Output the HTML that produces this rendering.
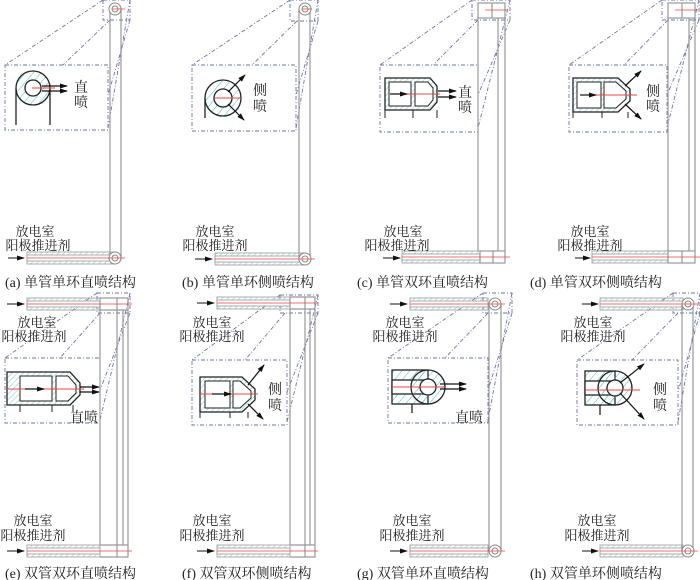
<!DOCTYPE html>
<html><head><meta charset="utf-8"><style>
html,body{margin:0;padding:0;background:#fff}
svg{display:block}
text{font-family:"Liberation Serif","Noto Serif CJK SC",serif;fill:#222}
</style></head><body>
<svg width="700" height="580" viewBox="0 0 700 580" xmlns="http://www.w3.org/2000/svg">
<defs>
<pattern id="h" width="4" height="4" patternUnits="userSpaceOnUse" patternTransform="rotate(45)">
<line x1="0" y1="0" x2="0" y2="4" stroke="#7cc" stroke-width="1"/></pattern>
<pattern id="H" width="6" height="6" patternUnits="userSpaceOnUse" patternTransform="rotate(40)">
<line x1="0" y1="0" x2="0" y2="6" stroke="#4bb" stroke-width="1"/></pattern>
<marker id="ar" markerUnits="userSpaceOnUse" markerWidth="8" markerHeight="6" refX="7" refY="3" orient="auto"><path d="M0,0.5 L8,3 L0,5.5z" fill="#111"/></marker>
</defs>
<g fill="none" stroke="#6a74a6" stroke-width="0.9" stroke-dasharray="4,2,1,2">
<rect x="103" y="0" width="27" height="20"/><rect x="5" y="65" width="103" height="65"/>
<path d="M103,0 L5,65 M110,20 L63,65 M130,0 L108,128 M130,20 L108,95"/>
<rect x="290" y="0" width="28" height="21"/><rect x="192" y="65" width="104" height="66"/>
<path d="M290,0 L192,65 M297,21 L252,65 M318,0 L296,128 M318,21 L296,95"/>
<rect x="472" y="0" width="38" height="20"/><rect x="380" y="65" width="98" height="67"/>
<path d="M472,0 L380,65 M478,20 L433,65 M510,0 L478,128 M510,20 L478,95"/>
<rect x="662" y="0" width="37" height="20"/><rect x="569" y="65" width="98" height="67"/>
<path d="M662,0 L569,65 M668,20 L624,65 M699,0 L667,128 M699,20 L667,95"/>
<rect x="97" y="293" width="33" height="20"/><rect x="5" y="358" width="95" height="65"/>
<path d="M97,293 L5,358 M100,313 L60,358 M130,293 L100,420 M130,313 L100,390"/>
<rect x="280" y="295" width="38" height="18"/><rect x="192" y="360" width="95" height="65"/>
<path d="M280,295 L192,360 M285,313 L245,360 M318,295 L287,422 M318,313 L287,392"/>
<rect x="483" y="293" width="29" height="20"/><rect x="388" y="358" width="100" height="65"/>
<path d="M483,293 L388,358 M488,313 L445,358 M512,293 L488,420 M512,313 L488,390"/>
<rect x="673" y="293" width="27" height="20"/><rect x="577" y="360" width="101" height="65"/>
<path d="M673,293 L577,360 M678,313 L632,360 M700,293 L678,422 M700,313 L678,392"/>
</g>

<g stroke="#999" stroke-width="0.8">
<rect x="27" y="252" width="88" height="12" fill="url(#h)"/><rect x="27" y="255" width="88" height="6" fill="#fff"/>
<rect x="215" y="253" width="90" height="12" fill="url(#h)"/><rect x="215" y="256" width="90" height="6" fill="#fff"/>
<rect x="402" y="251" width="78" height="12" fill="url(#h)"/><rect x="402" y="254" width="78" height="6" fill="#fff"/>
<rect x="592" y="251" width="76" height="12" fill="url(#h)"/><rect x="592" y="254" width="76" height="6" fill="#fff"/>
<rect x="27" y="298" width="73" height="12" fill="url(#h)"/><rect x="27" y="301" width="73" height="6" fill="#fff"/>
<rect x="27" y="545" width="73" height="12" fill="url(#h)"/><rect x="27" y="548" width="73" height="6" fill="#fff"/>
<rect x="217" y="297" width="73" height="12" fill="url(#h)"/><rect x="217" y="300" width="73" height="6" fill="#fff"/>
<rect x="217" y="545" width="73" height="12" fill="url(#h)"/><rect x="217" y="548" width="73" height="6" fill="#fff"/>
<rect x="410" y="298" width="78" height="12" fill="url(#h)"/><rect x="410" y="301" width="78" height="6" fill="#fff"/>
<rect x="410" y="545" width="78" height="12" fill="url(#h)"/><rect x="410" y="548" width="78" height="6" fill="#fff"/>
<rect x="600" y="298" width="83" height="12" fill="url(#h)"/><rect x="600" y="301" width="83" height="6" fill="#fff"/>
<rect x="600" y="545" width="83" height="12" fill="url(#h)"/><rect x="600" y="548" width="83" height="6" fill="#fff"/>
</g>

<g fill="none" stroke="#999" stroke-width="1.2">
<path d="M110,9 V258 M121,9 V258"/>
<path d="M299,9 V259 M310,9 V259"/>
<rect x="478" y="3" width="27" height="15"/><path d="M492,3 V18 M478,18 V251 M505,18 V251 M498,18 V251"/>
<rect x="480" y="251" width="25" height="12"/><path d="M493,251 V263"/>
<rect x="668" y="3" width="27" height="15"/><path d="M682,3 V18 M668,18 V251 M695,18 V251 M689,18 V251"/>
<rect x="668" y="251" width="27" height="12"/><path d="M682,251 V263"/>
<path d="M100,298 H128 V310 H100z M117,298 V310 M100,310 V545 M128,310 V545 M117,310 V545 M123,310 V545 M100,545 H128 V557 H100 M117,545 V557"/>
<path d="M290,297 H315 V309 H290z M305,297 V309 M290,309 V545 M315,309 V545 M305,309 V545 M310,309 V545 M290,545 H315 V557 H290 M305,545 V557"/>
<path d="M489,305 V551 M501,305 V551"/>
<path d="M682,305 V551 M693,305 V551"/>
</g>
<g fill="#fff" stroke="#888" stroke-width="1">
<circle cx="115" cy="9" r="6"/><circle cx="115" cy="9" r="3"/>
<circle cx="115" cy="258" r="6"/><circle cx="115" cy="258" r="3"/>
<circle cx="305" cy="9" r="6"/><circle cx="305" cy="9" r="3"/>
<circle cx="305" cy="259" r="6"/><circle cx="305" cy="259" r="3"/>
<circle cx="495" cy="304" r="6"/><circle cx="495" cy="304" r="3"/>
<circle cx="495" cy="551" r="6"/><circle cx="495" cy="551" r="3"/>
<circle cx="688" cy="304" r="6"/><circle cx="688" cy="304" r="3"/>
<circle cx="688" cy="551" r="6"/><circle cx="688" cy="551" r="3"/>
</g>
<g stroke="#e44" stroke-width="0.8">
<path d="M27,258 H125 M215,259 H315 M402,257 H510 M592,257 H700 M27,304 H132 M27,551 H132 M217,303 H318 M217,551 H318 M410,304 H505 M410,551 H505 M600,304 H698 M600,551 H698 M112,9 H125 M302,9 H312 M485,10 H508 M675,10 H698"/>
</g>
<g stroke="#111" stroke-width="1" marker-end="url(#ar)">
<line x1="8" y1="258" x2="24" y2="258"/><line x1="195" y1="259" x2="212" y2="259"/>
<line x1="383" y1="258" x2="400" y2="258"/><line x1="575" y1="258" x2="590" y2="258"/>
<line x1="7" y1="304" x2="24" y2="304"/><line x1="7" y1="551" x2="24" y2="551"/>
<line x1="197" y1="303" x2="214" y2="303"/><line x1="197" y1="551" x2="214" y2="551"/>
<line x1="390" y1="304" x2="407" y2="304"/><line x1="390" y1="551" x2="407" y2="551"/>
<line x1="582" y1="304" x2="598" y2="304"/><line x1="582" y1="551" x2="598" y2="551"/>
</g>

<g stroke="#222" stroke-width="1.3" fill="none">
<circle cx="33" cy="88" r="17" fill="url(#H)"/><circle cx="33" cy="88" r="8" fill="#fff"/>
<path d="M16,88 V125 M50,88 V125"/>
</g>
<path d="M32,88 H55" stroke="#e44"/>
<g stroke="#111" stroke-width="1.2" marker-end="url(#ar)"><line x1="42" y1="86" x2="67" y2="86"/><line x1="42" y1="91" x2="67" y2="91"/></g>
<g stroke="#222" stroke-width="1.3" fill="none">
<circle cx="223" cy="98" r="18" fill="url(#H)"/><circle cx="223" cy="98" r="9" fill="#fff"/>
<path d="M205,98 V118"/>
</g>
<path d="M215,98 H241" stroke="#e44"/>
<g stroke="#111" stroke-width="1.2" marker-end="url(#ar)"><line x1="228" y1="92" x2="245" y2="75"/><line x1="228" y1="104" x2="244" y2="120"/></g>
<g stroke="#222" stroke-width="1.3" fill="url(#h)"><path d="M385,78 H430 L437,86 V102 L430,110 H385z"/></g>
<g stroke="#222" stroke-width="1" fill="#fff"><rect x="389" y="82" width="22" height="24"/><path d="M415,82 H428 L433,88 V100 L428,106 H415z"/></g>
<path d="M385,110 V118 M413,110 V118 M437,110 V118" stroke="#222"/>
<path d="M405,94 H440" stroke="#e44"/>
<g stroke="#111" stroke-width="1.2" marker-end="url(#ar)"><line x1="390" y1="94" x2="407" y2="94"/><line x1="438" y1="91" x2="456" y2="91"/><line x1="438" y1="97" x2="456" y2="97"/></g>
<g stroke="#222" stroke-width="1.3" fill="url(#h)"><path d="M573,78 H618 L630,89 V101 L618,112 H573z"/></g>
<g stroke="#222" stroke-width="1" fill="#fff"><rect x="577" y="82" width="24" height="26"/><path d="M604,82 H616 L626,91 V99 L616,108 H604z"/></g>
<path d="M573,112 V118 M602,112 V118 M628,112 V118" stroke="#222"/>
<path d="M595,95 H637" stroke="#e44"/>
<g stroke="#111" stroke-width="1.2" marker-end="url(#ar)"><line x1="580" y1="95" x2="596" y2="95"/><line x1="625" y1="86" x2="641" y2="71"/><line x1="625" y1="104" x2="641" y2="119"/></g>
<g stroke="#222" stroke-width="1.3" fill="url(#h)"><path d="M7,372 H70 L80,383 V395 L70,405 H7z"/></g>
<g stroke="#222" stroke-width="1" fill="#fff"><rect x="20" y="376" width="32" height="25"/><path d="M56,376 H68 L76,385 V393 L68,401 H56z"/></g>
<path d="M20,405 V412 M52,405 V412 M73,405 V412" stroke="#222"/>
<path d="M7,389 H84" stroke="#e44"/>
<g stroke="#111" stroke-width="1.2" marker-end="url(#ar)"><line x1="25" y1="389" x2="44" y2="389"/><line x1="80" y1="387" x2="99" y2="387"/><line x1="80" y1="392" x2="99" y2="392"/></g>
<g stroke="#222" stroke-width="1.3" fill="url(#h)"><path d="M200,377 H242 L255,389 V400 L242,412 H200z"/></g>
<g stroke="#222" stroke-width="1" fill="#fff"><rect x="205" y="381" width="25" height="27"/><path d="M233,381 H240 L251,391 V398 L240,408 H233z"/></g>
<path d="M200,412 V418 M230,412 V418 M248,412 V418" stroke="#222"/>
<path d="M200,394 H258" stroke="#e44"/>
<g stroke="#111" stroke-width="1.2" marker-end="url(#ar)"><line x1="212" y1="394" x2="231" y2="394"/><line x1="248" y1="385" x2="264" y2="365"/><line x1="248" y1="404" x2="263" y2="419"/></g>
<g stroke="#222" stroke-width="1.3">
<rect x="392" y="370" width="36" height="34" fill="url(#H)"/>
<rect x="392" y="380" width="36" height="14" fill="#fff"/>
<circle cx="428" cy="387" r="17" fill="url(#H)"/><circle cx="428" cy="387" r="8" fill="#fff"/>
<path d="M412,404 V413" fill="none"/>
</g>
<path d="M392,387 H445" stroke="#e44"/>
<g stroke="#111" stroke-width="1.2" marker-end="url(#ar)"><line x1="440" y1="384" x2="466" y2="384"/><line x1="440" y1="389" x2="466" y2="389"/></g>
<g stroke="#222" stroke-width="1.3">
<rect x="585" y="371" width="30" height="34" fill="url(#H)"/>
<rect x="585" y="381" width="30" height="14" fill="#fff"/>
<circle cx="615" cy="388" r="17" fill="url(#H)"/><circle cx="615" cy="388" r="8" fill="#fff"/>
<path d="M600,405 V415" fill="none"/>
</g>
<path d="M585,390 H640" stroke="#e44"/>
<g stroke="#111" stroke-width="1.2" marker-end="url(#ar)"><line x1="620" y1="383" x2="644" y2="364"/><line x1="620" y1="393" x2="644" y2="419"/></g>

<g font-size="14">
<text x="74" y="92">直</text><text x="74" y="107">喷</text>
<text x="253" y="95">侧</text><text x="253" y="111">喷</text>
<text x="458" y="97">直</text><text x="458" y="112">喷</text>
<text x="646" y="96">侧</text><text x="646" y="111">喷</text>
<text x="70" y="422">直喷</text>
<text x="268" y="394">侧</text><text x="268" y="410">喷</text>
<text x="455" y="422">直喷</text>
<text x="653" y="394">侧</text><text x="653" y="410">喷</text>
</g>
<g font-size="13" text-anchor="middle">
<text x="35" y="236">放电室</text><text x="38" y="250">阳极推进剂</text>
<text x="215" y="236">放电室</text><text x="215" y="250">阳极推进剂</text>
<text x="403" y="236">放电室</text><text x="397" y="250">阳极推进剂</text>
<text x="590" y="236">放电室</text><text x="590" y="250">阳极推进剂</text>
<text x="37" y="327">放电室</text><text x="34" y="341">阳极推进剂</text>
<text x="212" y="327">放电室</text><text x="212" y="341">阳极推进剂</text>
<text x="405" y="327">放电室</text><text x="405" y="341">阳极推进剂</text>
<text x="593" y="327">放电室</text><text x="593" y="341">阳极推进剂</text>
<text x="33" y="525">放电室</text><text x="33" y="540">阳极推进剂</text>
<text x="212" y="525">放电室</text><text x="212" y="540">阳极推进剂</text>
<text x="412" y="525">放电室</text><text x="412" y="540">阳极推进剂</text>
<text x="597" y="525">放电室</text><text x="597" y="540">阳极推进剂</text>
</g>
<g font-size="14">
<text x="5" y="287">(a) 单管单环直喷结构</text>
<text x="182" y="287">(b) 单管单环侧喷结构</text>
<text x="357" y="287">(c) 单管双环直喷结构</text>
<text x="530" y="287">(d) 单管双环侧喷结构</text>
<text x="5" y="578">(e) 双管双环直喷结构</text>
<text x="182" y="578">(f) 双管双环侧喷结构</text>
<text x="357" y="578">(g) 双管单环直喷结构</text>
<text x="530" y="578">(h) 双管单环侧喷结构</text>
</g>
</svg>
</body></html>
